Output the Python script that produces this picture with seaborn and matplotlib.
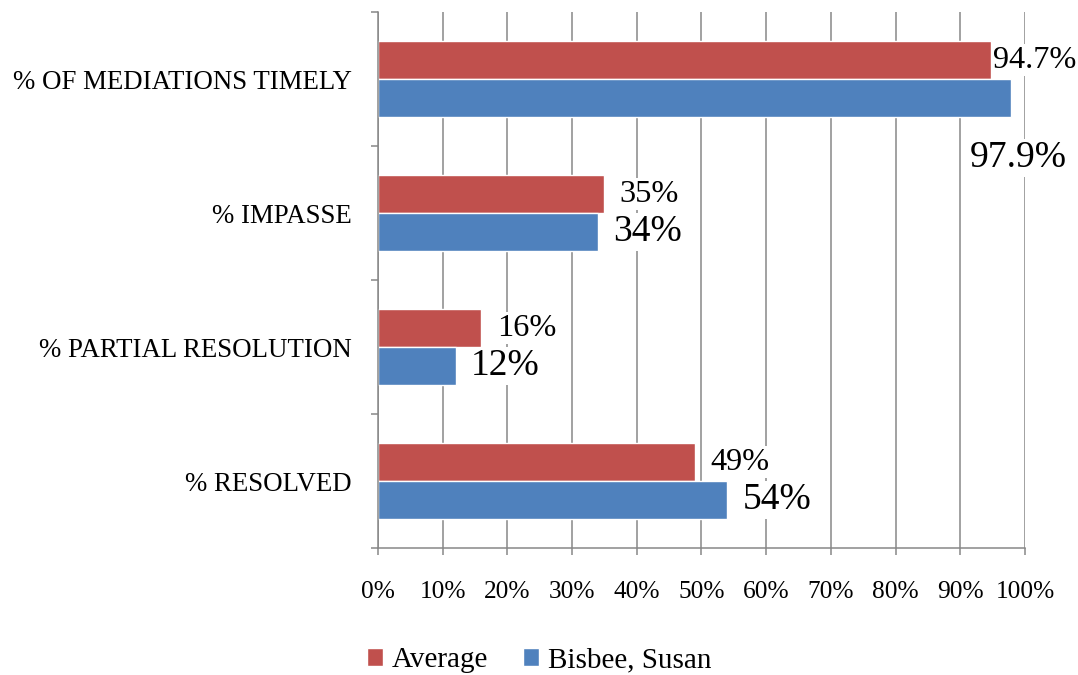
import pandas as pd
import numpy as np

import matplotlib.pyplot as plt
import seaborn as sns

# ---------------------
# Data
# ---------------------

categories = [
    "% OF MEDIATIONS TIMELY",
    "% IMPASSE",
    "% PARTIAL RESOLUTION",
    "% RESOLVED",
]
series_names = ["Average", "Bisbee, Susan"]
average_vals = [94.7, 35, 16, 49]
bisbee_vals = [97.9, 34, 12, 54]
average_labels = ["94.7%", "35%", "16%", "49%"]
bisbee_labels = ["97.9%", "34%", "12%", "54%"]
x_ticks = [0, 10, 20, 30, 40, 50, 60, 70, 80, 90, 100]

colors = ["#C0504D", "#4F81BD"]
grid_gray = "#878787"

df = pd.DataFrame({
    "category": categories * 2,
    "series": [series_names[0]] * 4 + [series_names[1]] * 4,
    "value": average_vals + bisbee_vals,
})

# ---------------------
# Style
# ---------------------

sns.set_style("white")
plt.rcParams["font.family"] = ["Liberation Serif", "DejaVu Serif"]
plt.rcParams["text.color"] = "black"

fig = plt.figure(figsize=(10.78, 6.75), dpi=100)
ax = fig.add_axes([0.3506, 0.188, 0.6002, 0.794])

sns.barplot(
    data=df,
    x="value",
    y="category",
    hue="series",
    hue_order=series_names,
    order=categories,
    palette=colors,
    orient="h",
    width=0.57,
    saturation=1,
    errorbar=None,
    legend=True,
    ax=ax,
)

# ---------------------
# Axes
# ---------------------

ax.set_xlim(0, 100)
ax.set_ylim(3.5, -0.5)
ax.set_xticks(x_ticks)
ax.set_xticklabels([f"{t}%" for t in x_ticks])
ax.set_xlabel("")
ax.set_ylabel("")
ax.set_axisbelow(True)
ax.grid(axis="x", color=grid_gray, linewidth=1.1)
ax.grid(axis="y", visible=False)

for side in ["top", "right"]:
    ax.spines[side].set_visible(False)
for side in ["left", "bottom"]:
    ax.spines[side].set_color(grid_gray)
    ax.spines[side].set_linewidth(1.1)

ax.tick_params(axis="x", direction="out", length=5, width=1.1,
               color=grid_gray, labelsize=18.3, pad=19, bottom=True,
               labelcolor="black")
ax.tick_params(axis="y", which="major", length=0, labelsize=19.4, pad=19,
               labelcolor="black")
ax.set_yticks(np.arange(-0.5, 4.0, 1.0), minor=True)
ax.tick_params(axis="y", which="minor", direction="out", length=5,
               width=1.1, color=grid_gray, left=True)

# ---------------------
# Data labels
# ---------------------

label_sets = [average_labels, bisbee_labels]
label_sizes = [23.3, 27]

for container, labels, size in zip(ax.containers, label_sets, label_sizes):
    for bar, text in zip(container, labels):
        w = bar.get_width()
        yc = bar.get_y() + bar.get_height() / 2
        if w > 96:
            ax.annotate(text, (w, yc), xytext=(5, -43),
                        textcoords="offset points", ha="center",
                        va="center", fontsize=size, color="black",
                        bbox=dict(fc="white", ec="none", pad=1))
        elif w > 90:
            ax.annotate(text, (w, yc), xytext=(2, 0),
                        textcoords="offset points", ha="left",
                        va="center", fontsize=size, color="black",
                        bbox=dict(fc="white", ec="none", pad=1))
        else:
            ax.annotate(text, (w, yc), xytext=(11, 0),
                        textcoords="offset points", ha="left",
                        va="center", fontsize=size, color="black",
                        bbox=dict(fc="white", ec="none", pad=1))

# ---------------------
# Legend
# ---------------------

handles, lbls = ax.get_legend_handles_labels()
ax.get_legend().remove()
fig.legend(
    handles, lbls,
    loc="lower center",
    bbox_to_anchor=(0.5, -0.036),
    ncol=2,
    frameon=False,
    fontsize=21,
    handlelength=0.55,
    handleheight=0.55,
    handletextpad=0.3,
    columnspacing=1.2,
)

plt.savefig("out.png", dpi=100)
